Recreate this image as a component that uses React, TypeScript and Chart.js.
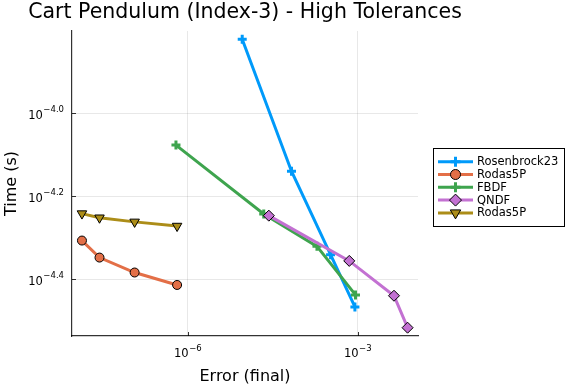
import React, { useEffect, useRef } from 'react';
import { Chart, registerables } from 'chart.js';
import { drawPoint } from 'chart.js/helpers';

Chart.register(...registerables);

const TITLE = 'Cart Pendulum (Index-3) - High Tolerances';
const X_LABEL = 'Error (final)';
const Y_LABEL = 'Time (s)';

const seriesNames = ['Rosenbrock23', 'Rodas5P', 'FBDF', 'QNDF', 'Rodas5P'];
const seriesColors = ['#009AFA', '#E36F47', '#3EA44E', '#C371D2', '#AC8D18'];

// values are log10 of error and log10 of time
const rosenbrockErr = [-5.04, -4.17, -3.48, -3.05];
const rosenbrockTime = [-3.822, -4.14, -4.341, -4.467];
const rodas5pErr = [-7.87, -7.56, -6.94, -6.19];
const rodas5pTime = [-4.307, -4.348, -4.384, -4.414];
const fbdfErr = [-6.21, -4.66, -3.72, -3.04];
const fbdfTime = [-4.077, -4.243, -4.321, -4.438];
const qndfErr = [-4.57, -3.15, -2.36, -2.12];
const qndfTime = [-4.247, -4.356, -4.44, -4.517];
const rodas5pBErr = [-7.87, -7.56, -6.94, -6.19];
const rodas5pBTime = [-4.242, -4.252, -4.262, -4.272];

const xTickExps = [-6, -3];
const xTickLabels = ['−6', '−3'];
const yTickExps = [-4.4, -4.2, -4.0];
const yTickLabels = ['−4.4', '−4.2', '−4.0'];

const xRangeExp = [-8.044, -1.936];
const yRangeExp = [-4.537, -3.802];

const FONT = "'DejaVu Sans', sans-serif";

const pointStyles: any[] = [
  { pointStyle: 'cross', radius: 4.5, borderWidth: 3, rotation: 0, bordered: false },
  { pointStyle: 'circle', radius: 4.5, borderWidth: 1, rotation: 0, bordered: true },
  { pointStyle: 'cross', radius: 4.5, borderWidth: 3, rotation: 0, bordered: false },
  { pointStyle: 'rectRot', radius: 5.5, borderWidth: 1, rotation: 0, bordered: true },
  { pointStyle: 'triangle', radius: 5.5, borderWidth: 1, rotation: 180, bordered: true },
];

const errs = [rosenbrockErr, rodas5pErr, fbdfErr, qndfErr, rodas5pBErr];
const times = [rosenbrockTime, rodas5pTime, fbdfTime, qndfTime, rodas5pBTime];

function drawSup(ctx: CanvasRenderingContext2D, base: string, exp: string, x: number, y: number, align: 'center' | 'right') {
  ctx.font = `11.5px ${FONT}`;
  const bw = ctx.measureText(base).width;
  ctx.font = `8.5px ${FONT}`;
  const ew = ctx.measureText(exp).width;
  const total = bw + ew + 0.5;
  const left = align === 'center' ? x - total / 2 : x - total;
  ctx.textAlign = 'left';
  ctx.textBaseline = 'alphabetic';
  ctx.font = `11.5px ${FONT}`;
  ctx.fillText(base, left, y);
  ctx.font = `8.5px ${FONT}`;
  ctx.fillText(exp, left + bw + 0.5, y - 6.5);
}

const decor = {
  id: 'decor',
  afterDraw(chart: any) {
    const ctx: CanvasRenderingContext2D = chart.ctx;
    const a = chart.chartArea;
    const xs = chart.scales.x;
    const ys = chart.scales.y;
    ctx.save();
    // inward tick marks
    ctx.strokeStyle = 'rgba(0,0,0,0.8)';
    ctx.lineWidth = 1;
    xTickExps.forEach((e) => {
      const px = Math.round(xs.getPixelForValue(Math.pow(10, e))) + 0.5;
      ctx.beginPath();
      ctx.moveTo(px, a.bottom);
      ctx.lineTo(px, a.bottom - 4);
      ctx.stroke();
    });
    yTickExps.forEach((e) => {
      const py = Math.round(ys.getPixelForValue(Math.pow(10, e))) + 0.5;
      ctx.beginPath();
      ctx.moveTo(a.left, py);
      ctx.lineTo(a.left + 4, py);
      ctx.stroke();
    });
    // tick labels
    ctx.fillStyle = '#000';
    xTickExps.forEach((e, i) => {
      const px = xs.getPixelForValue(Math.pow(10, e));
      drawSup(ctx, '10', xTickLabels[i], px, a.bottom + 21, 'center');
    });
    yTickExps.forEach((e, i) => {
      const py = ys.getPixelForValue(Math.pow(10, e));
      drawSup(ctx, '10', yTickLabels[i], a.left - 8, py + 5.5, 'right');
    });
    // title
    const cx = (a.left + a.right) / 2;
    ctx.textAlign = 'center';
    ctx.textBaseline = 'alphabetic';
    ctx.font = `20.5px ${FONT}`;
    ctx.fillText(TITLE, cx, 18);
    // axis labels
    ctx.font = `16px ${FONT}`;
    ctx.fillText(X_LABEL, cx, 380.5);
    ctx.save();
    ctx.translate(16, (a.top + a.bottom) / 2);
    ctx.rotate(-Math.PI / 2);
    ctx.fillText(Y_LABEL, 0, 0);
    ctx.restore();
    // legend
    ctx.font = `11.5px ${FONT}`;
    let maxW = 0;
    seriesNames.forEach((n) => { maxW = Math.max(maxW, ctx.measureText(n).width); });
    const bx = a.right + 15;
    const by = 148;
    const rowH = 12.8;
    const bw = 44 + maxW + 6;
    const bh = rowH * seriesNames.length + 14;
    ctx.fillStyle = '#fff';
    ctx.fillRect(bx, by, bw, bh);
    ctx.strokeStyle = '#000';
    ctx.lineWidth = 1;
    ctx.strokeRect(Math.round(bx) + 0.5, by + 0.5, Math.round(bw), Math.round(bh));
    seriesNames.forEach((n, i) => {
      const cy = by + 13.7 + i * rowH;
      ctx.strokeStyle = seriesColors[i];
      ctx.lineWidth = 3;
      ctx.beginPath();
      ctx.moveTo(bx + 5, cy);
      ctx.lineTo(bx + 40, cy);
      ctx.stroke();
      const ps = pointStyles[i];
      ctx.fillStyle = seriesColors[i];
      ctx.strokeStyle = ps.bordered ? '#000' : seriesColors[i];
      ctx.lineWidth = ps.borderWidth;
      drawPoint(ctx, { pointStyle: ps.pointStyle, rotation: ps.rotation, radius: ps.radius + 0.5, borderWidth: ps.borderWidth } as any, bx + 22.5, cy);
      ctx.fillStyle = '#000';
      ctx.textAlign = 'left';
      ctx.textBaseline = 'middle';
      ctx.fillText(n, bx + 44, cy + 0.5);
    });
    ctx.restore();
  },
};

export default function App() {
  const ref = useRef<HTMLCanvasElement>(null);
  useEffect(() => {
    document.body.style.margin = '0';
    const datasets = seriesNames.map((name, i) => {
      const ps = pointStyles[i];
      return {
        label: name,
        data: errs[i].map((e, j) => ({ x: Math.pow(10, e), y: Math.pow(10, times[i][j]) })),
        borderColor: seriesColors[i],
        backgroundColor: seriesColors[i],
        borderWidth: 3,
        pointStyle: ps.pointStyle,
        pointRadius: ps.radius,
        pointRotation: ps.rotation,
        pointBorderWidth: ps.borderWidth,
        pointBorderColor: ps.bordered ? '#000' : seriesColors[i],
        pointBackgroundColor: seriesColors[i],
        tension: 0,
        fill: false,
        clip: false,
        order: -i,
      };
    });
    const chart = new Chart(ref.current as HTMLCanvasElement, {
      type: 'line',
      data: { datasets } as any,
      plugins: [decor],
      options: {
        animation: false,
        responsive: false,
        devicePixelRatio: 1,
        events: [],
        layout: { padding: { left: 72, top: 31, right: 158, bottom: 48 } },
        plugins: { legend: { display: false }, title: { display: false }, tooltip: { enabled: false } },
        scales: {
          x: {
            type: 'logarithmic',
            min: Math.pow(10, xRangeExp[0]),
            max: Math.pow(10, xRangeExp[1]),
            afterBuildTicks: (s: any) => { s.ticks = xTickExps.map((e) => ({ value: Math.pow(10, e) })); },
            afterFit: (s: any) => { s.height = 0; },
            ticks: { display: false },
            grid: { color: 'rgba(0,0,0,0.09)', lineWidth: 1, drawTicks: false },
            border: { display: true, color: 'rgba(0,0,0,0.8)', width: 1.2 },
          },
          y: {
            type: 'logarithmic',
            min: Math.pow(10, yRangeExp[0]),
            max: Math.pow(10, yRangeExp[1]),
            afterBuildTicks: (s: any) => { s.ticks = yTickExps.map((e) => ({ value: Math.pow(10, e) })); },
            afterFit: (s: any) => { s.width = 0; },
            ticks: { display: false },
            grid: { color: 'rgba(0,0,0,0.09)', lineWidth: 1, drawTicks: false },
            border: { display: true, color: 'rgba(0,0,0,0.8)', width: 1.2 },
          },
        },
      } as any,
    });
    return () => chart.destroy();
  }, []);
  return (
    <div style={{ position: 'absolute', left: 0, top: 0, width: 576, height: 384, background: '#fff' }}>
      <canvas ref={ref} width={576} height={384} style={{ display: 'block' }} />
    </div>
  );
}
